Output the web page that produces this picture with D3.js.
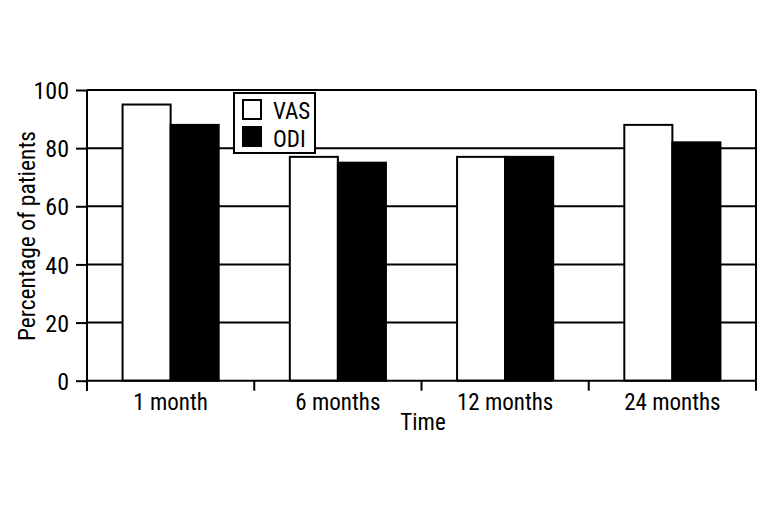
<!DOCTYPE html>
<html><head><meta charset="utf-8">
<script src="https://cdn.jsdelivr.net/npm/d3@7"></script>
<style>body{margin:0;background:#fff}svg{display:block}text{font-family:"Liberation Sans Narrow","Roboto Condensed","DejaVu Sans Condensed",sans-serif;fill:#000}</style>
</head><body><svg id="c" width="771" height="514"></svg>
<script>
const categories = ["1 month", "6 months", "12 months", "24 months"];
const series = ["VAS", "ODI"];
const vasValues = [95, 77, 77, 88];
const odiValues = [88, 75, 77, 82];
const yTicks = [0, 20, 40, 60, 80, 100];
const colors = {VAS: "#fff", ODI: "#000"};

const svg = d3.select("#c");
const L = 87, R = 756, T = 90, B = 380.7;
const x0 = d3.scaleBand().domain(categories).range([L, R]).padding(0);
const x1 = d3.scaleBand().domain(series).range([0, x0.bandwidth()]).paddingInner(0).paddingOuter(0.74);
const y = d3.scaleLinear().domain([0, 100]).range([B, T]);
const data = categories.map((c, i) => ({c, VAS: vasValues[i], ODI: odiValues[i]}));

// grid lines
svg.append("g").selectAll("line").data(yTicks.filter(d => d > 0)).join("line")
  .attr("x1", L).attr("x2", R).attr("y1", d => y(d)).attr("y2", d => y(d))
  .attr("stroke", "#000").attr("stroke-width", 2);
// right border
svg.append("line").attr("x1", R).attr("x2", R).attr("y1", T).attr("y2", B).attr("stroke", "#000").attr("stroke-width", 2);

// bars
const g = svg.append("g");
data.forEach(d => {
  series.forEach(s => {
    g.append("rect")
      .attr("x", x0(d.c) + x1(s))
      .attr("y", y(d[s]))
      .attr("width", x1.bandwidth())
      .attr("height", y(0) - y(d[s]))
      .attr("fill", colors[s]).attr("stroke", "#000").attr("stroke-width", 2);
  });
});

// y axis
const yAxis = d3.axisLeft(y).tickValues(yTicks).tickSize(11).tickPadding(7);
const ya = svg.append("g").attr("transform", `translate(${L},0)`).call(yAxis);
ya.select(".domain").attr("stroke-width", 2).attr("d", `M0,${B + 10}V${T}`);
ya.selectAll(".tick line").attr("stroke-width", 2);
ya.selectAll(".tick text").attr("font-size", 24).attr("font-family", null).attr("dy", "0.36em");

// x axis
const xa = svg.append("g").attr("transform", `translate(0,${B})`);
xa.append("line").attr("x1", L).attr("x2", R).attr("y1", 0).attr("y2", 0).attr("stroke", "#000").attr("stroke-width", 2);
const bounds = categories.map(c => x0(c)).concat([R]);
xa.selectAll("line.tk").data(bounds).join("line").attr("class", "tk")
  .attr("x1", d => d).attr("x2", d => d).attr("y1", 0).attr("y2", 10)
  .attr("stroke", "#000").attr("stroke-width", 2);
xa.selectAll("text").data(categories).join("text")
  .attr("x", d => x0(d) + x0.bandwidth() / 2).attr("y", 29)
  .attr("text-anchor", "middle").attr("font-size", 23).text(d => d);

// axis titles
svg.append("text").attr("x", 423).attr("y", 430).attr("text-anchor", "middle").attr("font-size", 23).text("Time");
svg.append("text").attr("transform", "translate(35,236) rotate(-90)").attr("text-anchor", "middle").attr("font-size", 23.5).text("Percentage of patients");

// legend
const lg = svg.append("g");
lg.append("rect").attr("x", 234).attr("y", 93).attr("width", 81).attr("height", 60).attr("fill", "#fff").attr("stroke", "#000").attr("stroke-width", 2);
series.forEach((s, i) => {
  lg.append("rect").attr("x", 243).attr("y", 100 + i * 27).attr("width", 18).attr("height", 19)
    .attr("fill", colors[s]).attr("stroke", "#000").attr("stroke-width", 2);
  lg.append("text").attr("x", 273).attr("y", 119 + i * 28).attr("font-size", 23).text(s);
});
</script></body></html>
